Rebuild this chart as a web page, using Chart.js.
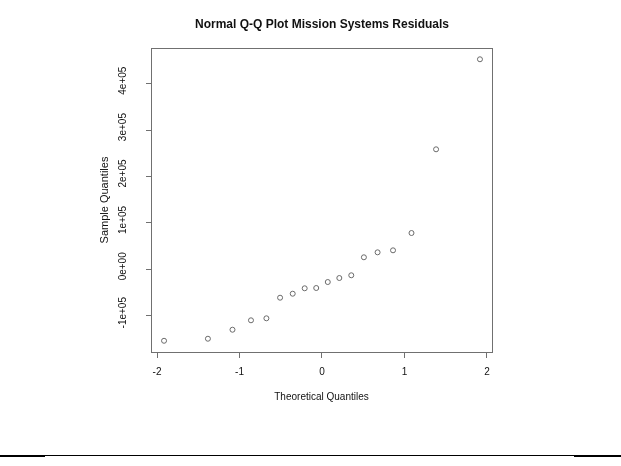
<!DOCTYPE html>
<html>
<head>
<meta charset="utf-8">
<script src="https://cdn.jsdelivr.net/npm/chart.js@4/dist/chart.umd.min.js"></script>
<style>
  html, body { margin: 0; padding: 0; background: #fff; }
  #wrap { position: relative; width: 621px; height: 466px; overflow: hidden; }
  canvas { position: absolute; left: 0; top: 0; }
  .rule { position: absolute; background: #000; }
</style>
</head>
<body>
<div id="wrap">
  <canvas id="c" width="621" height="466"></canvas>
  <div class="rule" style="left:0;top:455px;width:621px;height:1px;"></div>
  <div class="rule" style="left:0;top:455px;width:45px;height:2px;"></div>
  <div class="rule" style="left:574px;top:455px;width:47px;height:2px;"></div>
</div>
<script>
// Data
const theoretical = [-1.915, -1.383, -1.085, -0.861, -0.674, -0.508, -0.355, -0.210, -0.070,
                      0.070,  0.210,  0.355,  0.508,  0.674,  0.861,  1.085,  1.383,  1.915];
const sample = [-154000, -149600, -130200, -109900, -105600, -61200, -52600, -40900, -40300,
                -27400, -18800, -12900, 25900, 36600, 40900, 78200, 258600, 452600];
const xTicks = [-2, -1, 0, 1, 2];
const xTickLabels = ["-2", "-1", "0", "1", "2"];
const yTicks = [-100000, 0, 100000, 200000, 300000, 400000];
const yTickLabels = ["-1e+05", "0e+00", "1e+05", "2e+05", "3e+05", "4e+05"];
const chartTitle = "Normal Q-Q Plot Mission Systems Residuals";
const xTitle = "Theoretical Quantiles";
const yTitle = "Sample Quantiles";

const points = theoretical.map((x, i) => ({ x: x, y: sample[i] }));

const boxPlugin = {
  id: 'box',
  afterDraw(chart) {
    const a = chart.chartArea;
    const ctx = chart.ctx;
    ctx.save();
    ctx.strokeStyle = '#707070';
    ctx.lineWidth = 1;
    ctx.strokeRect(Math.round(a.left) + 0.5, Math.round(a.top) + 0.5,
                   Math.round(a.right - a.left), Math.round(a.bottom - a.top));
    ctx.restore();
  }
};

Chart.defaults.font.family = '"Liberation Sans", Arial, sans-serif';
Chart.defaults.color = '#111';

new Chart(document.getElementById('c'), {
  type: 'scatter',
  data: {
    datasets: [{
      data: points,
      pointStyle: 'circle',
      pointRadius: 2.5,
      pointHoverRadius: 2.5,
      pointBorderWidth: 1,
      pointBackgroundColor: 'rgba(0,0,0,0)',
      pointBorderColor: '#6a6a6a'
    }]
  },
  options: {
    responsive: false,
    animation: false,
    events: [],
    layout: { padding: { left: 23, right: 0, top: 0, bottom: 0 } },
    plugins: {
      legend: { display: false },
      tooltip: { enabled: false },
      title: {
        display: true,
        text: chartTitle,
        color: '#111',
        font: { size: 12, weight: 'bold' },
        padding: { top: 17.8, bottom: 15.8 }
      }
    },
    scales: {
      x: {
        type: 'linear',
        position: 'bottom',
        min: -2.073,
        max: 2.061,
        afterBuildTicks(s) { s.ticks = xTicks.map(v => ({ value: v })); },
        afterFit(s) { s.height = 114; },
        grid: { display: true, drawOnChartArea: false, drawTicks: true, tickLength: 6, color: '#707070' },
        border: { display: false },
        ticks: {
          padding: 8,
          font: { size: 10 },
          color: '#111',
          maxRotation: 0,
          minRotation: 0,
          callback(v) { const i = xTicks.indexOf(v); return i >= 0 ? xTickLabels[i] : ''; }
        },
        title: {
          display: true,
          text: xTitle,
          color: '#111',
          font: { size: 10 },
          padding: { top: 0, bottom: 63 }
        }
      },
      y: {
        type: 'linear',
        position: 'left',
        min: -178200,
        max: 476900,
        afterBuildTicks(s) { s.ticks = yTicks.map(v => ({ value: v })); },
        afterFit(s) { s.width = 128; },
        grid: { display: true, drawOnChartArea: false, drawTicks: true, tickLength: 5, color: '#707070' },
        border: { display: false },
        ticks: {
          padding: 7,
          labelOffset: -3,
          font: { family: '"Liberation Sans Narrow", "Liberation Sans", Arial, sans-serif', size: 10 },
          color: '#111',
          minRotation: 90,
          maxRotation: 90,
          crossAlign: 'center',
          callback(v) { const i = yTicks.indexOf(v); return i >= 0 ? yTickLabels[i] : ''; }
        },
        title: {
          display: true,
          text: yTitle,
          color: '#111',
          font: { size: 11 },
          padding: { top: 75.4, bottom: 0 }
        }
      },
      yR: {
        type: 'linear',
        position: 'right',
        display: true,
        afterFit(s) { s.width = 129; },
        grid: { display: false, drawTicks: false },
        border: { display: false },
        ticks: { display: false }
      }
    }
  },
  plugins: [boxPlugin]
});
</script>
</body>
</html>
